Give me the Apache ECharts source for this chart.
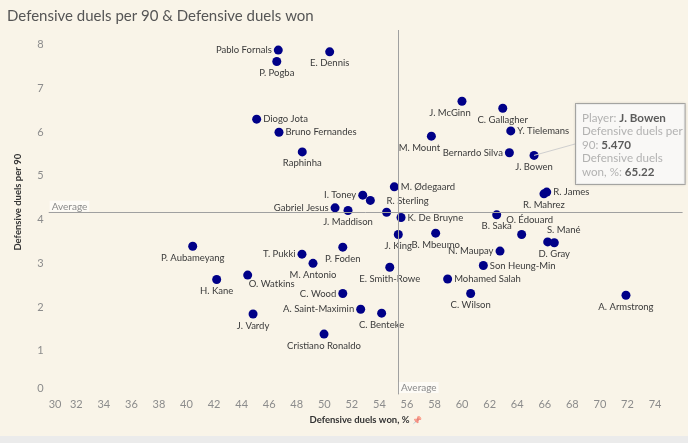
<!DOCTYPE html>
<html><head><meta charset="utf-8">
<script src="https://cdn.jsdelivr.net/npm/echarts@6/dist/echarts.min.js"></script>
<style>
html,body{margin:0;padding:0;background:#ebebeb;}
#chart{width:688px;height:436px;background:#f9f4e8;}
</style>
</head><body><div id="chart"></div>
<script>
// ---- data ----
const players = ['Pablo Fornals','E. Dennis','P. Pogba','J. McGinn','C. Gallagher','Y. Tielemans','M. Mount','Bernardo Silva','J. Bowen','Diogo Jota','Bruno Fernandes','Raphinha','M. Ødegaard','I. Toney','','R. Sterling','Gabriel Jesus','J. Maddison','K. De Bruyne','R. James','R. Mahrez','B. Saka','O. Édouard','S. Mané','D. Gray','J. King','B. Mbeumo','N. Maupay','Son Heung-Min','Mohamed Salah','C. Wilson','A. Armstrong','P. Aubameyang','T. Pukki','P. Foden','M. Antonio','E. Smith-Rowe','H. Kane','O. Watkins','C. Wood','A. Saint-Maximin','C. Benteke','J. Vardy','Cristiano Ronaldo'];
const duelsWonPct = [46.66,50.39,46.55,59.99,62.95,63.53,57.77,63.43,65.22,45.09,46.71,48.40,55.08,52.79,53.34,54.52,50.78,51.72,55.57,66.14,65.94,62.51,64.32,66.21,66.69,55.37,58.08,62.75,61.54,58.95,60.62,71.89,40.45,48.38,51.34,49.18,54.75,42.19,44.44,51.34,52.64,54.16,44.83,49.98];
const duelsPer90 = [7.88,7.84,7.62,6.71,6.55,6.03,5.91,5.53,5.47,6.30,6.00,5.55,4.75,4.56,4.44,4.17,4.27,4.21,4.05,4.63,4.59,4.11,3.66,3.49,3.47,3.66,3.69,3.28,2.95,2.64,2.31,2.27,3.39,3.21,3.37,3.00,2.91,2.63,2.73,2.31,1.95,1.86,1.84,1.38];
const xTickLabels = [30,32,34,36,38,40,42,44,46,48,50,52,54,56,58,60,62,64,66,68,70,72,74];
const yTickLabels = [0,1,2,3,4,5,6,7,8];
const highlightedPlayer = 'J. Bowen';

// ---- label placement (style only) ----
const labelPlacement = {
  'Pablo Fornals':{position:'left'}, 'E. Dennis':{position:'bottom'}, 'P. Pogba':{position:'bottom'},
  'J. McGinn':{position:'bottom',offset:[-12,0]}, 'C. Gallagher':{position:'bottom'}, 'Y. Tielemans':{position:'right'},
  'M. Mount':{position:'bottom',offset:[-12,0]}, 'Bernardo Silva':{position:'left'}, 'J. Bowen':{position:'bottom'},
  'Diogo Jota':{position:'right'}, 'Bruno Fernandes':{position:'right'}, 'Raphinha':{position:'bottom'},
  'M. Ødegaard':{position:'right'}, 'I. Toney':{position:'left'}, 'R. Sterling':{position:'top',offset:[21,0]},
  'Gabriel Jesus':{position:'left'}, 'J. Maddison':{position:'bottom'}, 'K. De Bruyne':{position:'right'},
  'R. James':{position:'right'}, 'R. Mahrez':{position:'bottom'}, 'B. Saka':{position:'bottom'},
  'O. Édouard':{position:'top',offset:[8,-3]}, 'S. Mané':{position:'top',offset:[16,0]}, 'D. Gray':{position:'bottom'},
  'J. King':{position:'bottom'}, 'B. Mbeumo':{position:'bottom'}, 'N. Maupay':{position:'left'},
  'Son Heung-Min':{position:'right'}, 'Mohamed Salah':{position:'right'}, 'C. Wilson':{position:'bottom'},
  'A. Armstrong':{position:'bottom'}, 'P. Aubameyang':{position:'bottom'}, 'T. Pukki':{position:'left'},
  'P. Foden':{position:'bottom'}, 'M. Antonio':{position:'bottom'}, 'E. Smith-Rowe':{position:'bottom'},
  'H. Kane':{position:'bottom'}, 'O. Watkins':{position:'bottom',offset:[24,-3]}, 'C. Wood':{position:'left'},
  'A. Saint-Maximin':{position:'left'}, 'C. Benteke':{position:'bottom'}, 'J. Vardy':{position:'bottom'},
  'Cristiano Ronaldo':{position:'bottom'}
};

const FONT = 'Lato';
const mean = a => a.reduce((s, v) => s + v, 0) / a.length;
const avgX = mean(duelsWonPct);
const avgY = mean(duelsPer90);

const points = players.map((p, i) => {
  const pl = labelPlacement[p] || {position:'right'};
  return {
    name: p,
    value: [duelsWonPct[i], duelsPer90[i]],
    label: {show: p !== '', position: pl.position, offset: pl.offset || [0,0]}
  };
});

const hi = players.indexOf(highlightedPlayer);

const chart = echarts.init(document.getElementById('chart'), null, {renderer:'canvas'});
const averageLabel = {
  show: true, formatter: 'Average', color: '#8a8a8a', fontFamily: FONT, fontSize: 10,
  backgroundColor: '#fdfbf6', padding: [1,2,0,2]
};
chart.setOption({
  animation: false,
  backgroundColor: '#f9f4e8',
  title: {
    text: 'Defensive duels per 90 & Defensive duels won',
    left: 2, top: 4,
    textStyle: {fontFamily: FONT, fontSize: 15, fontWeight: 'normal', color: '#555'}
  },
  grid: {left: 48.7, right: 5.4, top: 30, bottom: 41.6, containLabel: false, outerBoundsMode: 'none'},
  xAxis: {
    type: 'value',
    min: xTickLabels[0], max: 76, interval: xTickLabels[1] - xTickLabels[0],
    name: '{t|Defensive duels won, %} {p|📌}', nameLocation: 'middle', nameGap: 21,
    nameTextStyle: {
      fontFamily: FONT, fontSize: 9.5, color: '#333', fontWeight: 'bold',
      rich: {
        t: {fontFamily: FONT, fontSize: 9.5, color: '#333', fontWeight: 'bold'},
        p: {fontSize: 8, opacity: 0.55}
      }
    },
    axisLine: {show: false}, axisTick: {show: false}, splitLine: {show: false},
    axisLabel: {
      fontFamily: FONT, fontSize: 11, color: '#8c8c8c', margin: 5, alignMinLabel: 'left',
      formatter: v => xTickLabels.includes(v) ? String(v) : ''
    }
  },
  yAxis: {
    type: 'value',
    min: yTickLabels[0], max: 8.34, interval: yTickLabels[1] - yTickLabels[0],
    name: 'Defensive duels per 90', nameLocation: 'middle', nameGap: 26, nameRotate: 90,
    nameTextStyle: {fontFamily: FONT, fontSize: 9.5, color: '#333', fontWeight: 'bold', padding: [0,0,0,20]},
    axisLine: {show: false}, axisTick: {show: false}, splitLine: {show: false},
    axisLabel: {
      fontFamily: FONT, fontSize: 11, color: '#8c8c8c', margin: 5, verticalAlignMinLabel: 'bottom',
      formatter: v => yTickLabels.includes(v) ? String(v) : ''
    }
  },
  series: [
    {
      type: 'scatter',
      symbolSize: 9,
      itemStyle: {color: '#000088', opacity: 1},
      label: {formatter: '{b}', fontFamily: FONT, fontSize: 9.5, color: '#3a3a3a', distance: 2},
      data: points,
      markLine: {
        silent: true, symbol: 'none',
        lineStyle: {color: '#a0a0a0', width: 1, type: 'solid'},
        data: [
          {yAxis: avgY, label: Object.assign({position: 'insideStartTop', distance: 1}, averageLabel)},
          {xAxis: avgX, label: {show: false}}
        ]
      },
      markPoint: {
        silent: true, symbol: 'circle', symbolSize: 0,
        data: [{coord: [avgX, yTickLabels[0]], label: Object.assign({position: 'right', distance: 1, offset: [0,-7]}, averageLabel)}]
      }
    },
    {
      type: 'scatter',
      silent: true,
      symbolSize: 0,
      z: 10,
      data: [{name: players[hi], value: [duelsWonPct[hi], duelsPer90[hi]]}],
      label: {
        show: true,
        formatter: p => '{k|Player: }{v|' + p.name + '}\n{k|Defensive duels per}\n{k|90: }{v|' + p.value[1].toFixed(3) + '}\n{k|Defensive duels}\n{k|won, %: }{v|' + p.value[0].toFixed(2) + '}',
        backgroundColor: '#ffffff', borderColor: '#9a9a9a', borderWidth: 1,
        padding: [7, 2, 5, 6],
        shadowColor: 'rgba(0,0,0,0.12)', shadowBlur: 3,
        rich: {
          k: {fontFamily: FONT, fontSize: 11.6, color: '#a0a0a0', lineHeight: 13.6},
          v: {fontFamily: FONT, fontSize: 11.6, color: '#333', fontWeight: 'bold', lineHeight: 13.6}
        }
      },
      labelLine: {show: true, lineStyle: {color: '#cfcfcf', width: 1}},
      labelLayout: () => ({x: 576, y: 104, align: 'left', verticalAlign: 'top'})
    }
  ]
});
</script></body></html>
